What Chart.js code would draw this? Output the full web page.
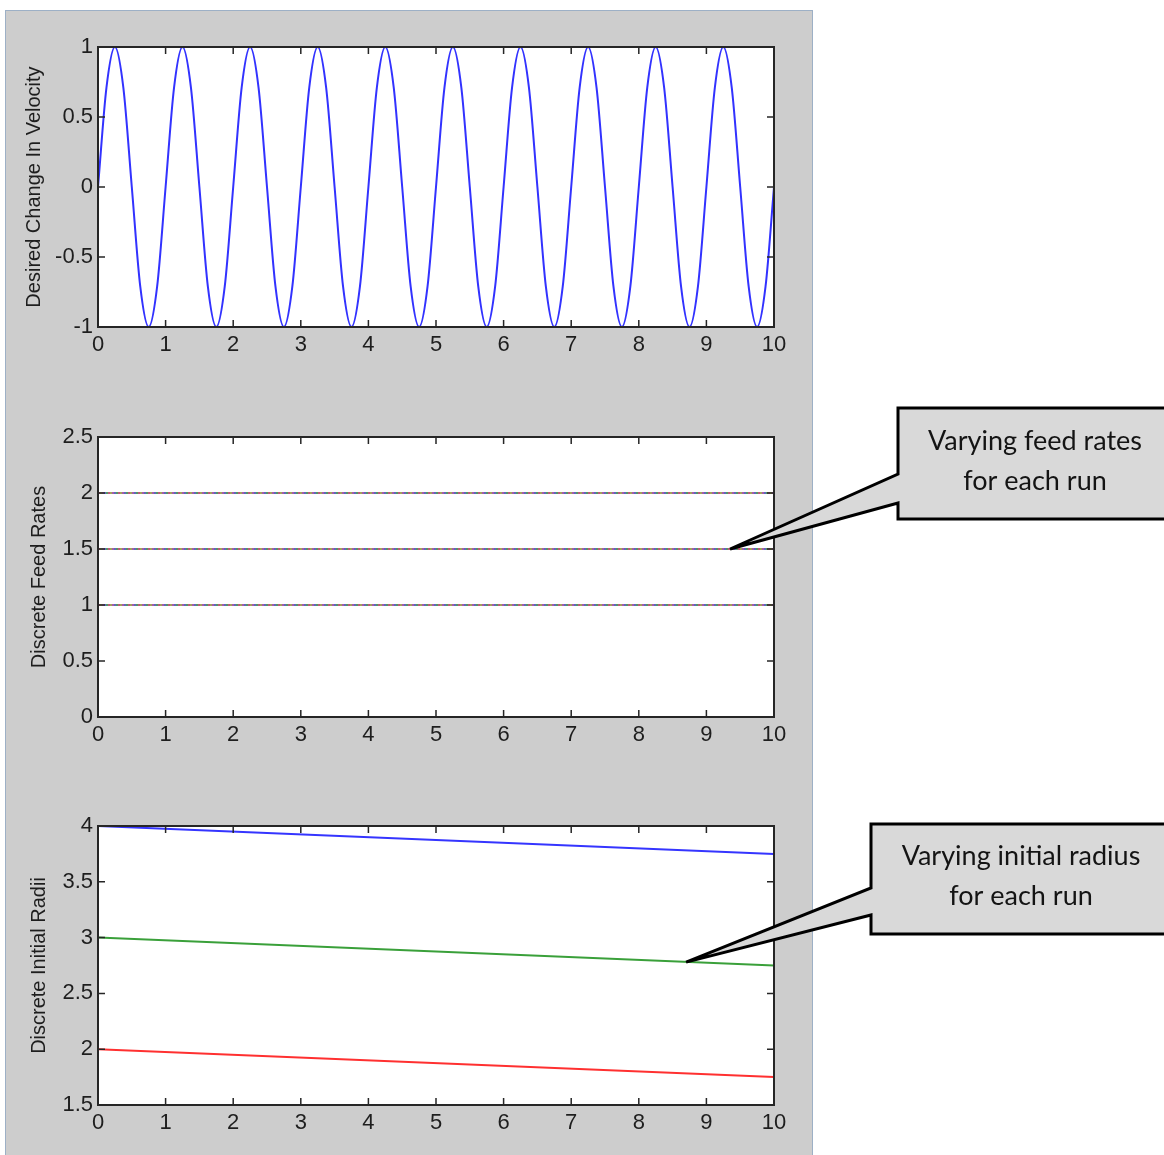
<!DOCTYPE html>
<html>
<head>
<meta charset="utf-8">
<script src="https://cdn.jsdelivr.net/npm/chart.js@4.4.1/dist/chart.umd.min.js"></script>
<style>
  html, body { margin: 0; padding: 0; background: #fff; overflow: hidden; }
  #page { position: relative; width: 1164px; height: 1155px; }
  #panel { position: absolute; left: 5px; top: 10px; width: 806px; height: 1160px;
           background: #cdcdcd; border: 1px solid #9db0c6; }
  canvas { position: absolute; left: 0; }
</style>
</head>
<body>
<div id="page">
  <div id="panel"></div>
  <canvas id="velocityChart" width="1164" height="380" style="top:0px"></canvas>
  <canvas id="feedChart" width="1164" height="380" style="top:390px"></canvas>
  <canvas id="radiusChart" width="1164" height="376" style="top:779px"></canvas>
</div>
<script>
// ---- data ----
const timeTicks = [0, 1, 2, 3, 4, 5, 6, 7, 8, 9, 10];

// desired change in velocity, sampled every 0.125 s
const velocityStep = 0.125;
const velocityValues = [
  0, 0.71, 1, 0.71, 0, -0.71, -1, -0.71,
  0, 0.71, 1, 0.71, 0, -0.71, -1, -0.71,
  0, 0.71, 1, 0.71, 0, -0.71, -1, -0.71,
  0, 0.71, 1, 0.71, 0, -0.71, -1, -0.71,
  0, 0.71, 1, 0.71, 0, -0.71, -1, -0.71,
  0, 0.71, 1, 0.71, 0, -0.71, -1, -0.71,
  0, 0.71, 1, 0.71, 0, -0.71, -1, -0.71,
  0, 0.71, 1, 0.71, 0, -0.71, -1, -0.71,
  0, 0.71, 1, 0.71, 0, -0.71, -1, -0.71,
  0, 0.71, 1, 0.71, 0, -0.71, -1, -0.71,
  0
];
const velocityTicks = [-1, -0.5, 0, 0.5, 1];

// discrete feed rates (several runs overlap on each level)
const feedTimes = [0, 10];
const feedLevels = [1, 1.5, 2];
const feedRunColors = ['#ff3b6e', '#2fb34f', '#3f5cff', '#d83ad8', '#c8c83a'];
const feedTicks = [0, 0.5, 1, 1.5, 2, 2.5];

// discrete initial radii
const radiusTimes = [0, 10];
const radiusBlue = [4, 3.75];
const radiusGreen = [3, 2.75];
const radiusRed = [2, 1.75];
const radiusTicks = [1.5, 2, 2.5, 3, 3.5, 4];

// ---- helpers ----
const tickFont = { family: 'Liberation Sans, Arial, sans-serif', size: 22 };
const titleFont = { family: 'Liberation Sans, Arial, sans-serif', size: 20 };
const textColor = '#1e1e1e';

// white plot box, MATLAB-like frame with inward ticks
const matlabAxes = {
  id: 'matlabAxes',
  beforeDatasetsDraw(chart) {
    const { ctx, chartArea: a } = chart;
    ctx.save();
    ctx.fillStyle = '#ffffff';
    ctx.fillRect(a.left, a.top, a.right - a.left, a.bottom - a.top);
    ctx.restore();
  },
  afterDatasetsDraw(chart) {
    const { ctx, chartArea: a, scales } = chart;
    ctx.save();
    ctx.strokeStyle = '#262626';
    ctx.lineWidth = 1.5;
    ctx.beginPath();
    scales.x.ticks.forEach(t => {
      const px = scales.x.getPixelForValue(t.value);
      ctx.moveTo(px, a.bottom); ctx.lineTo(px, a.bottom - 7);
      ctx.moveTo(px, a.top); ctx.lineTo(px, a.top + 7);
    });
    scales.y.ticks.forEach(t => {
      const py = scales.y.getPixelForValue(t.value);
      ctx.moveTo(a.left, py); ctx.lineTo(a.left + 7, py);
      ctx.moveTo(a.right, py); ctx.lineTo(a.right - 7, py);
    });
    ctx.stroke();
    ctx.lineWidth = 2;
    ctx.strokeRect(a.left, a.top, a.right - a.left, a.bottom - a.top);
    ctx.restore();
  }
};

// callout box with a wedge pointing at a data point
function makeCallout(id, lines, box, point) {
  return {
    id: id,
    afterDraw(chart) {
      const { ctx, scales } = chart;
      const tipX = scales.x.getPixelForValue(point.x);
      const tipY = scales.y.getPixelForValue(point.y);
      ctx.save();
      ctx.beginPath();
      ctx.moveTo(box.left, box.top);
      ctx.lineTo(box.right, box.top);
      ctx.lineTo(box.right, box.bottom);
      ctx.lineTo(box.left, box.bottom);
      ctx.lineTo(box.left, box.wedgeBottom);
      ctx.lineTo(tipX, tipY);
      ctx.lineTo(box.left, box.wedgeTop);
      ctx.closePath();
      ctx.fillStyle = '#d9d9d9';
      ctx.fill();
      ctx.lineWidth = 3;
      ctx.lineJoin = 'miter';
      ctx.strokeStyle = '#000000';
      ctx.stroke();
      ctx.fillStyle = '#141414';
      ctx.font = '27px Lato, "Open Sans", sans-serif';
      ctx.textAlign = 'center';
      ctx.textBaseline = 'middle';
      lines.forEach((txt, i) => ctx.fillText(txt, box.textX, box.textY + i * 40));
      ctx.restore();
    }
  };
}

function baseOptions(yTicks, title, titlePad, xAxisHeight) {
  return {
    responsive: false,
    animation: false,
    layout: { padding: { top: 47, right: 390, bottom: 0, left: 0 } },
    plugins: { legend: { display: false }, tooltip: { enabled: false } },
    elements: { point: { radius: 0 } },
    scales: {
      x: {
        type: 'linear', min: 0, max: 10,
        grid: { display: false, drawTicks: false },
        border: { display: false },
        afterBuildTicks: s => { s.ticks = timeTicks.map(v => ({ value: v })); },
        afterFit: s => { s.height = xAxisHeight; },
        ticks: { font: tickFont, color: textColor, padding: 5, maxRotation: 0, autoSkip: false,
                 callback: v => String(v) }
      },
      y: {
        type: 'linear', min: yTicks[0], max: yTicks[yTicks.length - 1],
        grid: { display: false, drawTicks: false },
        border: { display: false },
        afterBuildTicks: s => { s.ticks = yTicks.map(v => ({ value: v })); },
        afterFit: s => { s.width = 98; },
        ticks: { font: tickFont, color: textColor, padding: 5, callback: v => String(v) },
        title: { display: true, text: title, font: titleFont, color: textColor, padding: { top: titlePad, bottom: 0 } }
      }
    }
  };
}

// ---- chart 1: desired change in velocity ----
new Chart(document.getElementById('velocityChart').getContext('2d'), {
  type: 'line',
  data: {
    datasets: [{
      data: velocityValues.map((v, i) => ({ x: i * velocityStep, y: v })),
      borderColor: '#3232ff',
      borderWidth: 2,
      cubicInterpolationMode: 'monotone',
      fill: false
    }]
  },
  options: baseOptions(velocityTicks, 'Desired Change In Velocity', 22, 53),
  plugins: [matlabAxes]
});

// ---- chart 2: discrete feed rates ----
const feedDatasets = [];
feedLevels.forEach(level => {
  feedDatasets.push({
    data: feedTimes.map(t => ({ x: t, y: level })),
    borderColor: '#7a7a7a', borderWidth: 1, fill: false
  });
  feedRunColors.forEach((c, k) => {
    feedDatasets.push({
      data: feedTimes.map(t => ({ x: t, y: level })),
      borderColor: c, borderWidth: 2, borderDash: [2, 8], borderDashOffset: k * 2, fill: false
    });
  });
});

new Chart(document.getElementById('feedChart').getContext('2d'), {
  type: 'line',
  data: { datasets: feedDatasets },
  options: baseOptions(feedTicks, 'Discrete Feed Rates', 27, 53),
  plugins: [matlabAxes, makeCallout('feedCallout', ['Varying feed rates', 'for each run'],
    { left: 898, top: 18, right: 1172, bottom: 129, wedgeTop: 84, wedgeBottom: 113, textX: 1035, textY: 51 },
    { x: 9.35, y: 1.5 })]
});

// ---- chart 3: discrete initial radii ----
new Chart(document.getElementById('radiusChart').getContext('2d'), {
  type: 'line',
  data: {
    datasets: [
      { data: radiusTimes.map((t, i) => ({ x: t, y: radiusBlue[i] })), borderColor: '#3535ff', borderWidth: 2, fill: false },
      { data: radiusTimes.map((t, i) => ({ x: t, y: radiusGreen[i] })), borderColor: '#3aa03a', borderWidth: 2, fill: false },
      { data: radiusTimes.map((t, i) => ({ x: t, y: radiusRed[i] })), borderColor: '#ff3030', borderWidth: 2, fill: false }
    ]
  },
  options: baseOptions(radiusTicks, 'Discrete Initial Radii', 27, 50),
  plugins: [matlabAxes, makeCallout('radiusCallout', ['Varying initial radius', 'for each run'],
    { left: 871, top: 45, right: 1172, bottom: 155, wedgeTop: 109, wedgeBottom: 136, textX: 1021, textY: 77 },
    { x: 8.7, y: 2.78 })]
});
</script>
</body>
</html>
